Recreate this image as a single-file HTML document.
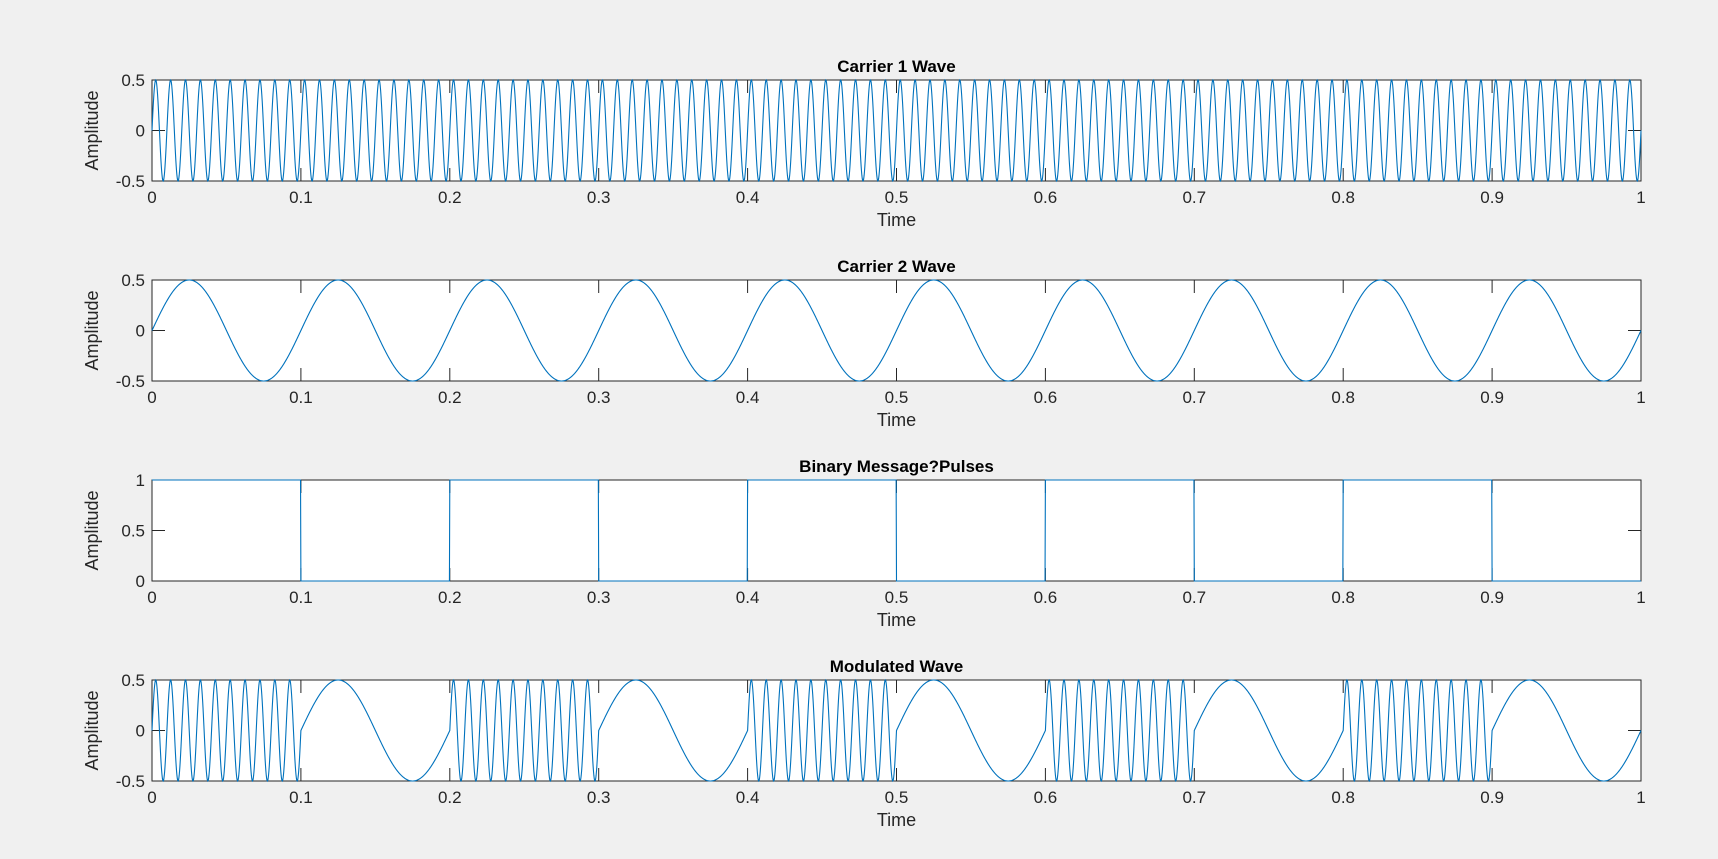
<!DOCTYPE html>
<html><head><meta charset="utf-8"><style>
html,body{margin:0;padding:0;background:#f0f0f0;}
svg{display:block;font-family:"Liberation Sans",Arial,sans-serif;}
</style></head><body>
<svg id="fig" width="1718" height="859" xmlns="http://www.w3.org/2000/svg"></svg>
<script>
// ---- data ----
const panelTitles = ["Carrier 1 Wave","Carrier 2 Wave","Binary Message?Pulses","Modulated Wave"];
const bits = [1,0,1,0,1,0,1,0,1,0];
const carrierFreqs = [100,10];      // Hz
const carrierAmps = [0.5,0.5];
const xTicks = [0,0.1,0.2,0.3,0.4,0.5,0.6,0.7,0.8,0.9,1];
const xTickLabels = ["0","0.1","0.2","0.3","0.4","0.5","0.6","0.7","0.8","0.9","1"];
const yTicksWave = [-0.5,0,0.5];
const yTickLabelsWave = ["-0.5","0","0.5"];
const yTicksBin = [0,0.5,1];
const yTickLabelsBin = ["0","0.5","1"];
const N = 4000;

const svg = document.getElementById('fig');
const NS = "http://www.w3.org/2000/svg";
function mk(tag, attrs, parent){const e=document.createElementNS(NS,tag);for(const k in attrs)e.setAttribute(k,attrs[k]);(parent||svg).appendChild(e);return e;}

const L=152, R=1641, H=101;
const tops=[80,280,480,680];

function carrier(i,t){return carrierAmps[i]*Math.sin(2*Math.PI*carrierFreqs[i]*t);}
function bitAt(t){let k=Math.min(bits.length-1,Math.floor(t*bits.length+1e-9));return bits[k];}

const series = [
  t=>carrier(0,t),
  t=>carrier(1,t),
  t=>bitAt(t),
  t=>bitAt(t)?carrier(0,t):carrier(1,t)
];

for(let p=0;p<4;p++){
  const top=tops[p];
  const g=mk('g',{});
  
  
  const bin = p===2;
  const ymin = bin?0:-0.5, ymax = bin?1:0.5;
  const yT = bin?yTicksBin:yTicksWave, yL = bin?yTickLabelsBin:yTickLabelsWave;
  const xs=v=>L+(v-0)/(1-0)*(R-L);
  const ys=v=>top+H-(v-ymin)/(ymax-ymin)*H;
  const bg=mk('rect',{x:L,y:top,width:R-L,height:H,fill:'#fff'},g);
  
  
  const box=mk('rect',{x:L,y:top,width:R-L,height:H,fill:'none',stroke:'#262626','stroke-width':1},g);
  
  
  xTicks.forEach((v,i)=>{
    const x=xs(v);
    mk('line',{x1:x,x2:x,y1:top+H,y2:top+H-13,stroke:'#262626'},g);
    mk('line',{x1:x,x2:x,y1:top,y2:top+13,stroke:'#262626'},g);
    const tx=mk('text',{x:x,y:top+H+22,'font-size':17,'text-anchor':'middle',fill:'#262626'},g);
    tx.textContent=xTickLabels[i];
    
    
  });
  yT.forEach((v,i)=>{
    const y=ys(v);
    mk('line',{x1:L,x2:L+13,y1:y,y2:y,stroke:'#262626'},g);
    mk('line',{x1:R,x2:R-13,y1:y,y2:y,stroke:'#262626'},g);
    const tx=mk('text',{x:L-7,y:y+6,'font-size':17,'text-anchor':'end',fill:'#262626'},g);
    tx.textContent=yL[i];
    
    
  });
  let d='';
  for(let i=0;i<=N;i++){const t=i/N;d+=(i?'L':'M')+xs(t).toFixed(2)+','+ys(series[p](t)).toFixed(2);}
  const line=mk('path',{d:d,fill:'none',stroke:'#0072BD','stroke-width':1.1},g);
  
  
  const ti=mk('text',{x:(L+R)/2,y:top-8,'font-size':17,'font-weight':'bold','text-anchor':'middle',fill:'#000'},g);
  ti.textContent=panelTitles[p];
  
  
  const xl=mk('text',{x:(L+R)/2,y:top+H+45,'font-size':18,'text-anchor':'middle',fill:'#262626'},g);
  xl.textContent='Time';
  
  
  const yl=mk('text',{x:0,y:0,'font-size':18,'text-anchor':'middle',fill:'#262626',transform:'translate(98,'+(top+H/2)+') rotate(-90)'},g);
  yl.textContent='Amplitude';
  
  
}
</script>
</body></html>
